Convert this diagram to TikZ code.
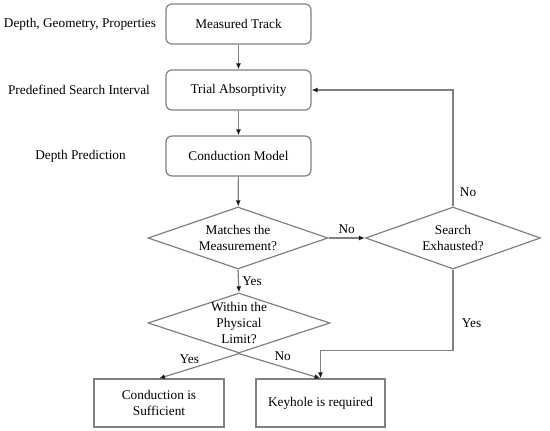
\documentclass[tikz,border=0pt]{standalone}
\usepackage{fontspec}
\setmainfont{Liberation Serif}
\usepackage{tikz}
\usetikzlibrary{arrows.meta,positioning,calc,shapes.geometric}
\definecolor{linegray}{HTML}{808080}
\definecolor{tipdark}{HTML}{1A1A1A}
\tikzset{
  txt/.style={font=\fontsize{13.3}{16}\selectfont, text=black},
  stepbox/.style={txt, draw=linegray, rounded corners=6pt, line width=1.2pt,
    minimum width=145pt, minimum height=40pt, inner sep=2pt, align=center},
  endbox/.style={txt, draw=linegray, line width=1.2pt,
    minimum width=130pt, minimum height=48pt, inner sep=2pt, align=center},
  decide/.style={txt, draw=linegray, diamond, aspect=2.9, line width=1.2pt,
    inner sep=0pt, align=center},
  sidenote/.style={txt},
  flow/.style={-{Latex[length=6pt,width=5pt,color=tipdark]}, line width=1.2pt,
    color=linegray},
  tag/.style={txt},
}
\begin{document}
\begin{tikzpicture}[x=1pt,y=1pt]
  \useasboundingbox (0,0) rectangle (550,431);
  % main column
  \node[stepbox] (track) at (238.5,407) {Measured Track};
  \node[stepbox] (trial) at (238.5,341) {Trial Absorptivity};
  \node[stepbox] (model) at (238.5,275) {Conduction Model};
  \node[decide, minimum width=180pt, minimum height=62pt] (match) at (238,193)
      {Matches the\\Measurement?};
  \node[decide, minimum width=175pt, minimum height=62pt] (search) at (453,193)
      {Search\\Exhausted?};
  \node[decide, minimum width=182pt, minimum height=60pt, inner sep=-2.5pt] (limit) at (239,108)
      {Within the\\Physical\\Limit?};
  \node[endbox] (suff) at (159,28) {Conduction is\\Sufficient};
  \node[endbox, minimum width=129pt] (keyhole) at (320.5,28) {Keyhole is required};
  % notes on the left
  \node[sidenote] (inputs) at (80,407) {Depth, Geometry, Properties};
  \node[sidenote] (range) at (79,341) {Predefined Search Interval};
  \node[sidenote] (predict) at (80.5,275) {Depth Prediction};
  \coordinate (kturn) at ($(keyhole.north)+(0,28)$);
  \draw[flow] (track) -- (trial);
  \draw[flow] (trial) -- (model);
  \draw[flow] (model) -- (match);
  \draw[flow] (match.east) -- node[tag, above] {No} (search.west);
  \draw[flow] (search.north) |- node[tag, pos=0.06, right=3pt] {No} (trial.east);
  \draw[flow] (match.south) -- node[tag, right] {Yes} (limit.north);
  \draw[flow] (search.south) |- node[tag, pos=0.33, right=5pt] {Yes} (kturn) -- (keyhole.north);
  \draw[flow] (limit.south) -- node[tag, pos=0.55, above left=0pt, xshift=8pt] {Yes} (suff.north);
  \draw[flow] (limit.south) -- node[tag, pos=0.45, above right=0pt, xshift=-5pt] {No} (keyhole.north);
\end{tikzpicture}
\end{document}
